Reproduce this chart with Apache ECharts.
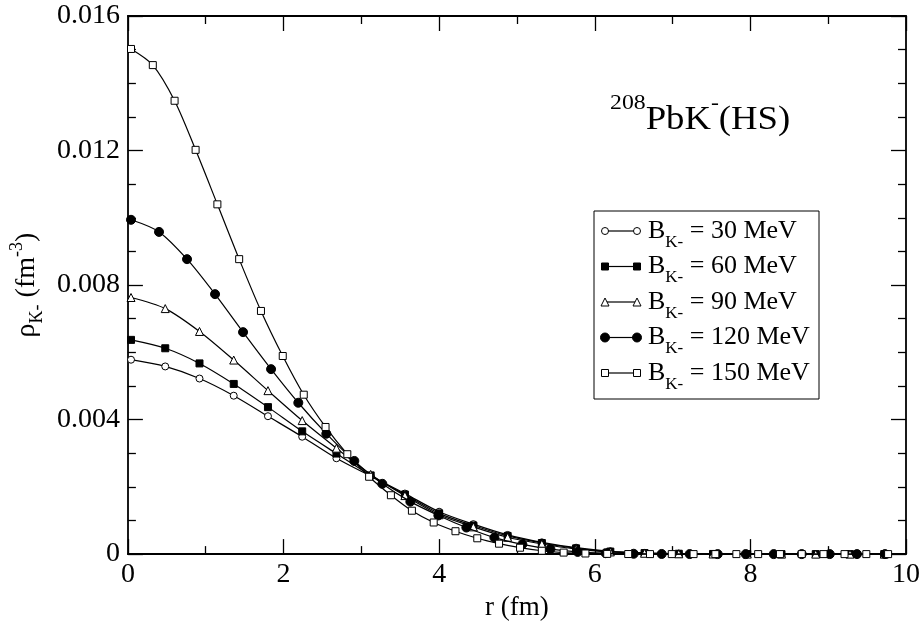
<!DOCTYPE html>
<html><head><meta charset="utf-8">
<script src="https://cdn.jsdelivr.net/npm/echarts@6/dist/echarts.min.js"></script>
<style>html,body{margin:0;padding:0;background:#fff}#c{width:924px;height:626px}</style>
</head><body><div id="c"></div>
<script>
// r grids (fm)
const rA = [0.04,0.48,0.92,1.36,1.80,2.24,2.68,3.12,3.56,4.00,4.44,4.88,5.32,5.76,6.20,6.64,7.08,7.52,7.96,8.40,8.84,9.28,9.72];
const rB = [0.04,0.40,0.76,1.12,1.48,1.84,2.19,2.55,2.91,3.27,3.63,3.99,4.35,4.71,5.07,5.43,5.78,6.14,6.50,6.86,7.22,7.58,7.94,8.30,8.66,9.02,9.37,9.73];
const rC = [0.04,0.32,0.60,0.87,1.15,1.43,1.71,1.99,2.26,2.54,2.82,3.10,3.38,3.65,3.93,4.21,4.49,4.77,5.04,5.32,5.60,5.88,6.16,6.43,6.71,6.99,7.27,7.55,7.82,8.10,8.38,8.66,8.94,9.21,9.49,9.77];
// densities (fm^-3)
const rho30  = [0.00578,0.00558,0.00522,0.00471,0.00410,0.00349,0.00285,0.00232,0.00180,0.00126,0.00089,0.00057,0.00035,0.00019,0.000085,0.000035,0.000013,0.000005,0.000002,0.000001,0,0,0];
const rho60  = [0.00637,0.00612,0.00567,0.00506,0.00437,0.00365,0.00299,0.00234,0.00177,0.00121,0.00085,0.00054,0.00033,0.00017,0.000075,0.00003,0.000011,0.000004,0.000001,0,0,0,0];
const rho90  = [0.00763,0.00730,0.00662,0.00577,0.00486,0.00397,0.00315,0.00237,0.00174,0.00117,0.00081,0.00050,0.00030,0.00015,0.000065,0.000025,0.000009,0.000003,0.000001,0,0,0,0];
const rho120 = [0.00994,0.00958,0.00877,0.00773,0.00660,0.00550,0.00450,0.00358,0.00277,0.00209,0.00156,0.00115,0.00079,0.00049,0.00029,0.00015,0.000065,0.000027,0.00001,0.000004,0.000001,0,0,0,0,0,0,0];
const rho150 = [0.01502,0.01454,0.01348,0.01202,0.01040,0.00877,0.00723,0.00589,0.00474,0.00378,0.00297,0.00230,0.00175,0.00129,0.00094,0.00068,0.00047,0.00031,0.00019,0.00010,0.000045,0.000018,0.000006,0.000002,0,0,0,0,0,0,0,0,0,0,0,0];
const seriesNames = ['30 MeV','60 MeV','90 MeV','120 MeV','150 MeV'];
const xTickLabels = ['0','2','4','6','8','10'];
const yTickLabels = ['0','0.004','0.008','0.012','0.016'];

const FONT = 'Liberation Serif';
const zip = (xs, ys) => xs.map((x, i) => [x, ys[i]]);

const markers = [
  {symbol:'circle', size:7, fill:'#fff'},
  {symbol:'rect', size:7, fill:'#000'},
  {symbol:'triangle', size:8, fill:'#fff'},
  {symbol:'circle', size:9, fill:'#000'},
  {symbol:'rect', size:7, fill:'#fff'}
];
const xs = [rA, rA, rA, rB, rC];
const ys = [rho30, rho60, rho90, rho120, rho150];

const series = ys.map((y, i) => ({
  type:'line', name: seriesNames[i], data: zip(xs[i], y),
  xAxisIndex:0, yAxisIndex:0,
  smooth:0.3, clip:false,
  symbol: markers[i].symbol, symbolSize: markers[i].size, showAllSymbol:true,
  lineStyle:{color:'#000', width:1.2},
  itemStyle:{color: markers[i].fill, borderColor:'#000', borderWidth:1},
  z: 2 + i
}));

const axisCommonX = {
  type:'value', min:0, max:10, interval:2,
  axisLine:{show:true, onZero:false, lineStyle:{color:'#000', width:1.8}},
  axisTick:{show:true, inside:true, length:15, lineStyle:{color:'#000', width:1.3}},
  minorTick:{show:true, splitNumber:2, length:8, lineStyle:{color:'#000', width:1.3}},
  splitLine:{show:false}, minorSplitLine:{show:false}
};
const axisCommonY = {
  type:'value', min:0, max:0.016, interval:0.004,
  axisLine:{show:true, onZero:false, lineStyle:{color:'#000', width:1.8}},
  axisTick:{show:true, inside:true, length:15, lineStyle:{color:'#000', width:1.3}},
  minorTick:{show:true, splitNumber:4, length:8, lineStyle:{color:'#000', width:1.3}},
  splitLine:{show:false}, minorSplitLine:{show:false}
};

// legend graphics
const legX0 = 594, legY0 = 211, legW = 225, legH = 188;
const rowY = [231, 266.5, 302, 337.5, 373];
const graphics = [{
  type:'rect', shape:{x:legX0, y:legY0, width:legW, height:legH},
  style:{fill:'#fff', stroke:'#000', lineWidth:1}, z:100
}];
function markerGraphic(i, cx, cy) {
  const m = markers[i], s = m.size, st = {fill:m.fill, stroke:'#000', lineWidth:1};
  if (m.symbol === 'circle') return {type:'circle', shape:{cx, cy, r:s/2}, style:st, z:102};
  if (m.symbol === 'rect') return {type:'rect', shape:{x:cx-s/2, y:cy-s/2, width:s, height:s}, style:st, z:102};
  return {type:'polygon', shape:{points:[[cx, cy-s/2],[cx+s/2, cy+s/2],[cx-s/2, cy+s/2]]}, style:st, z:102};
}
rowY.forEach((y, i) => {
  graphics.push({type:'line', shape:{x1:605, y1:y, x2:637, y2:y}, style:{stroke:'#000', lineWidth:1.2}, z:101});
  graphics.push(markerGraphic(i, 605, y));
  graphics.push(markerGraphic(i, 637, y));
  graphics.push({type:'text', x:648, y:y, z:103, style:{
    text:'{m|B}{sub|K}{sup|-}{m| = ' + seriesNames[i] + '}',
    textAlign:'left', textVerticalAlign:'middle',
    rich:{
      m:{fontFamily:FONT, fontSize:26, lineHeight:40, fill:'#000', color:'#000'},
      sub:{fontFamily:FONT, fontSize:17, lineHeight:17, verticalAlign:'bottom', fill:'#000', color:'#000'},
      sup:{fontFamily:FONT, fontSize:17, lineHeight:22, verticalAlign:'bottom', fill:'#000', color:'#000'}
    }
  }});
});
// nucleus annotation
graphics.push({type:'text', x:610, y:120, z:103, scaleX:1.08, style:{
  text:'{sup|208}{m|PbK}{sup2|-}{m|(HS)}',
  textAlign:'left', textVerticalAlign:'middle',
  rich:{
    m:{fontFamily:FONT, fontSize:34, lineHeight:56, fill:'#000', color:'#000'},
    sup:{fontFamily:FONT, fontSize:22, lineHeight:22, verticalAlign:'top', fill:'#000', color:'#000'},
    sup2:{fontFamily:FONT, fontSize:22, lineHeight:30, verticalAlign:'top', fill:'#000', color:'#000'}
  }
}});

const option = {
  animation:false,
  backgroundColor:'#fff',
  grid:{left:125, right:18, top:16, bottom:64.5, containLabel:false},
  xAxis:[
    Object.assign({}, axisCommonX, {
      position:'bottom',
      name:'r (fm)', nameLocation:'middle', nameGap:39,
      nameTextStyle:{fontFamily:FONT, fontSize:27, color:'#000'},
      axisLabel:{show:true, margin:7, fontFamily:FONT, fontSize:28, color:'#000',
        formatter:(v)=>xTickLabels[Math.round(v/2)]}
    }),
    Object.assign({}, axisCommonX, {position:'top', axisLabel:{show:false}})
  ],
  yAxis:[
    Object.assign({}, axisCommonY, {
      position:'left',
      name:'{m|ρ}{sub|K}{sup|-}{m| (fm}{sup2|-3}{m|)}',
      nameLocation:'middle', nameGap:76,
      nameTextStyle:{fontFamily:FONT, fontSize:28, color:'#000',
        rich:{
          m:{fontFamily:FONT, fontSize:28, lineHeight:38, color:'#000'},
          sub:{fontFamily:FONT, fontSize:18, lineHeight:18, verticalAlign:'bottom', color:'#000'},
          sup:{fontFamily:FONT, fontSize:18, lineHeight:28, verticalAlign:'bottom', color:'#000'},
          sup2:{fontFamily:FONT, fontSize:18, lineHeight:20, verticalAlign:'top', color:'#000'}
        }},
      axisLabel:{show:true, margin:8, fontFamily:FONT, fontSize:28, color:'#000',
        formatter:(v)=>yTickLabels[Math.round(v/0.004)]}
    }),
    Object.assign({}, axisCommonY, {position:'right', axisLabel:{show:false}})
  ],
  series: series,
  graphic: graphics
};
const chart = echarts.init(document.getElementById('c'), null, {renderer:'canvas'});
chart.setOption(option);
</script>
</body></html>
